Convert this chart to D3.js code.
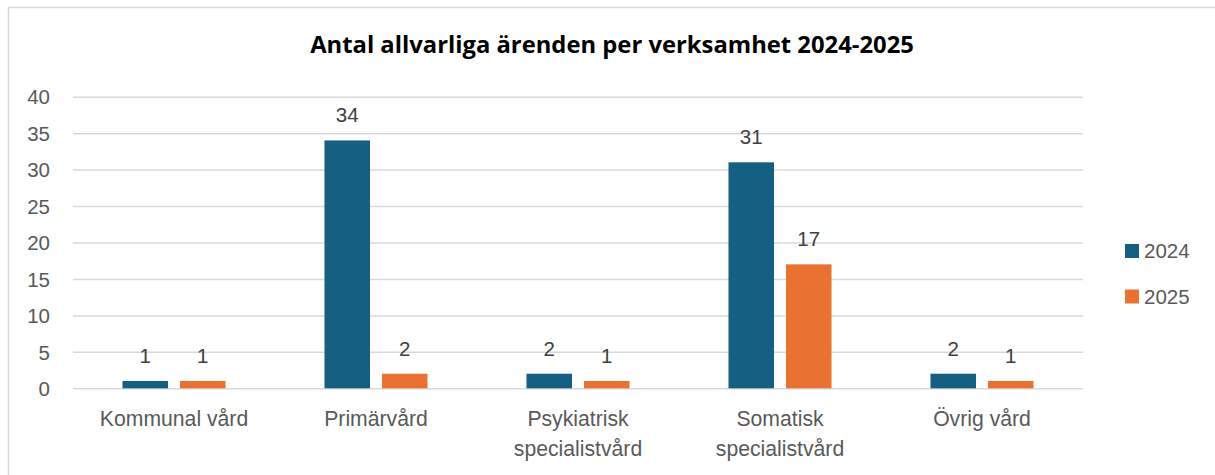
<!DOCTYPE html>
<html><head><meta charset="utf-8">
<script src="https://cdn.jsdelivr.net/npm/d3@7"></script>
<style>html,body{margin:0;padding:0;background:#fff;}svg{display:block;}</style>
</head><body>
<svg id="chart" width="1215" height="475"></svg>
<script>
const title = "Antal allvarliga ärenden per verksamhet 2024-2025";
const categories = ["Kommunal vård", "Primärvård", "Psykiatrisk specialistvård", "Somatisk specialistvård", "Övrig vård"];
const seriesNames = ["2024", "2025"];
const values2024 = [1, 34, 2, 31, 2];
const values2025 = [1, 2, 1, 17, 1];
const yTicks = [0, 5, 10, 15, 20, 25, 30, 35, 40];
const colors = ["#156082", "#E97132"];

const seriesValues = [values2024, values2025];
const svg = d3.select("#chart");
const W = 1215, H = 475;
const plot = {left: 73, right: 1083, top: 96.7, bottom: 388.3};
const font = "'Liberation Sans', Arial, sans-serif";
const numSize = 20.5;

svg.append("rect").attr("x", 8.5).attr("y", 7.5).attr("width", W).attr("height", H)
  .attr("fill", "#fff").attr("stroke", "#d9d9d9").attr("stroke-width", 1.5);

const y = d3.scaleLinear().domain([0, 40]).range([plot.bottom, plot.top]);
const x0 = d3.scaleBand().domain(categories).range([plot.left, plot.right])
  .paddingInner(0.49).paddingOuter(0.245);
const x1 = d3.scaleBand().domain(seriesNames).range([0, x0.bandwidth()]).paddingInner(0.208);

// gridlines + y axis
const yAxis = d3.axisLeft(y).tickValues(yTicks).tickSize(-(plot.right - plot.left)).tickPadding(23);
const gy = svg.append("g").attr("transform", `translate(${plot.left},0)`).call(yAxis);
gy.select(".domain").remove();
gy.selectAll(".tick line").attr("stroke", "#d9d9d9").attr("stroke-width", 1.5);
gy.selectAll(".tick text").attr("fill", "#595959").attr("font-size", numSize).attr("font-family", font)
  .attr("dy", "0.35em");

// bars
const groups = svg.append("g").selectAll("g").data(categories).join("g")
  .attr("transform", d => `translate(${x0(d)},0)`);
groups.selectAll("rect").data((c, i) => seriesNames.map((s, j) => ({s, j, v: seriesValues[j][i]})))
  .join("rect")
  .attr("x", d => x1(d.s)).attr("width", x1.bandwidth())
  .attr("y", d => y(d.v)).attr("height", d => y(0) - y(d.v))
  .attr("fill", d => colors[d.j]);
groups.selectAll("text").data((c, i) => seriesNames.map((s, j) => ({s, j, v: seriesValues[j][i]})))
  .join("text")
  .attr("x", d => x1(d.s) + x1.bandwidth() / 2).attr("y", d => y(d.v) - 18)
  .attr("text-anchor", "middle").attr("fill", "#404040").attr("font-size", numSize).attr("font-family", font)
  .text(d => d.v);

// x axis labels
const xAxis = d3.axisBottom(x0).tickSize(0).tickPadding(0);
const gx = svg.append("g").attr("transform", `translate(0,${plot.bottom})`).call(xAxis);
gx.select(".domain").remove();
gx.selectAll(".tick text").attr("fill", "#595959").attr("font-size", 21.2).attr("font-family", font)
  .attr("dy", null).attr("y", null)
  .each(function(d) {
    const t = d3.select(this);
    const words = d.split(" ");
    t.text(null);
    const lines = [];
    let line = [];
    const maxW = x0.step() - 10;
    words.forEach(w => {
      const test = line.concat([w]).join(" ");
      t.text(test);
      if (this.getComputedTextLength() > maxW && line.length) { lines.push(line.join(" ")); line = [w]; }
      else line.push(w);
    });
    lines.push(line.join(" "));
    t.text(null);
    lines.forEach((l, i) => t.append("tspan").attr("x", 0).attr("y", 37.7 + i * 30).text(l));
  });

// title
svg.append("text").attr("x", 612).attr("y", 52.5).attr("text-anchor", "middle")
  .attr("font-size", 23.8).attr("font-weight", "bold").attr("font-family", "'Open Sans', sans-serif")
  .attr("fill", "#000").text(title);

// legend
const leg = svg.append("g").attr("transform", "translate(1125,244)");
const li = leg.selectAll("g").data(seriesNames).join("g").attr("transform", (d, i) => `translate(0,${i * 45.5})`);
li.append("rect").attr("width", 14).attr("height", 14).attr("fill", (d, i) => colors[i]);
li.append("text").attr("x", 19).attr("y", 14).attr("font-size", numSize).attr("font-family", font)
  .attr("fill", "#595959").text(d => d);
</script>
</body></html>
